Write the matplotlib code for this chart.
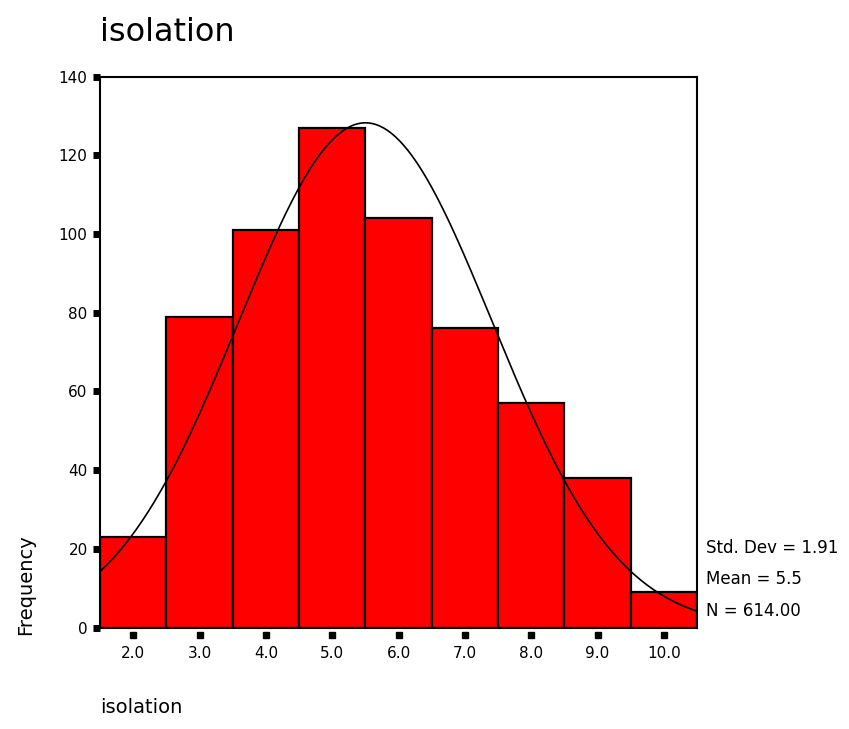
import numpy as np
import matplotlib
matplotlib.use("Agg")
import matplotlib.pyplot as plt
import matplotlib.transforms as mtransforms

# histogram of isolation
centers = [2.0, 3.0, 4.0, 5.0, 6.0, 7.0, 8.0, 9.0, 10.0]
counts = [23, 79, 101, 127, 104, 76, 57, 38, 9]
tick_labels = ["2.0", "3.0", "4.0", "5.0", "6.0", "7.0", "8.0", "9.0", "10.0"]
std_dev = 1.91
mean = 5.5
n = 614.00
bin_width = 1.0

plt.rcParams['font.family'] = ['DejaVu Sans']

fig = plt.figure(figsize=(8.49, 7.29), dpi=100)
ax = fig.add_axes([0.118, 0.139, 0.703, 0.756])

ax.bar(centers, counts, width=bin_width, color="#ff0000", edgecolor="black", linewidth=1.6)

# normal curve from the stats
x = np.linspace(1.5, 10.5, 300)
y = n * bin_width / (std_dev * np.sqrt(2 * np.pi)) * np.exp(-0.5 * ((x - mean) / std_dev) ** 2)
ax.plot(x, y, color="black", linewidth=1.2)

ax.set_xlim(1.5, 10.5)
ax.set_ylim(0, 140)
ax.set_yticks(range(0, 141, 20))
ax.tick_params(axis="y", direction="out", length=5, width=5, labelsize=11, pad=4)
for s in ax.spines.values():
    s.set_linewidth(1.5)

# x ticks as little squares a bit below the axis
ax.set_xticks(centers)
ax.set_xticklabels(tick_labels)
ax.tick_params(axis="x", length=0, labelsize=11, pad=13)
trans = mtransforms.offset_copy(ax.get_xaxis_transform(), fig=fig, x=0, y=-5, units="points")
ax.plot(centers, [0] * len(centers), linestyle="none", marker="s", markersize=4.5,
        color="black", transform=trans, clip_on=False)

fig.text(0.118, 0.955, "isolation", fontsize=23, ha="left", va="center")
fig.text(0.118, 0.016, "isolation", fontsize=14, ha="left", va="bottom")
fig.text(0.030, 0.198, "Frequency", fontsize=14, rotation=90, ha="center", va="center")

fig.text(0.831, 0.248, "Std. Dev = 1.91", fontsize=12, ha="left", va="center")
fig.text(0.831, 0.206, "Mean = 5.5", fontsize=12, ha="left", va="center")
fig.text(0.831, 0.162, "N = 614.00", fontsize=12, ha="left", va="center")

fig.savefig("out.png", dpi=100)
